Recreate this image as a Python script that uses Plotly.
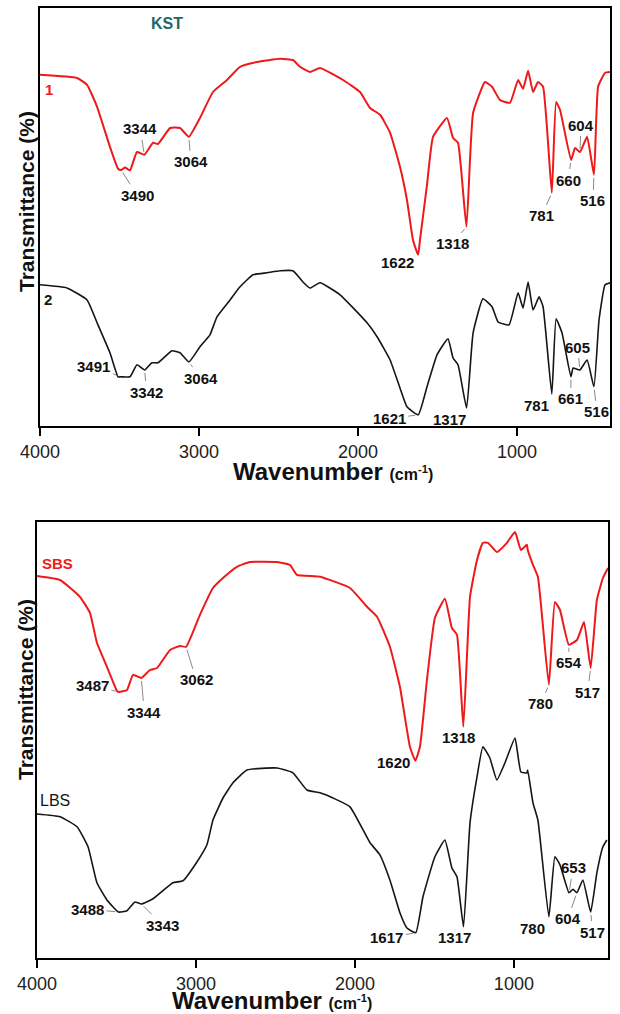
import numpy as np
import plotly.graph_objects as go

# ---------------- data: FTIR spectra (wavenumber in cm-1, transmittance in a.u. %) ----------------
# upper panel, sample 1 (KST)
kst1_wn = [4000, 3767, 3704, 3641, 3560, 3509, 3490, 3465, 3434, 3390, 3344, 3289, 3258, 3182, 3119,
           3064, 2994, 2912, 2824, 2742, 2635, 2490, 2409, 2365, 2302, 2239, 2094, 1987, 1924, 1861,
           1798, 1736, 1692, 1654, 1622, 1610, 1566, 1528, 1440, 1402, 1371, 1318, 1276, 1201, 1157,
           1107, 1044, 993, 962, 930, 899, 868, 836, 781, 754, 729, 660, 635, 604, 559, 516, 490, 446, 415]
kst1_t = [87.8, 87.0, 85.3, 79.8, 69.8, 64.3, 64.0, 64.6, 63.9, 68.5, 67.8, 70.8, 70.5, 74.5, 74.5,
          72.3, 77.0, 83.5, 86.5, 89.8, 91.0, 91.8, 91.5, 89.8, 88.5, 89.5, 86.5, 83.5, 79.5, 77.8,
          73.3, 64.8, 56.5, 46.5, 42.8, 46.5, 60.3, 72.3, 77.0, 72.0, 70.8, 49.8, 78.3, 86.0, 84.8,
          81.5, 80.8, 86.5, 84.3, 88.8, 83.5, 86.0, 84.8, 58.3, 81.0, 79.0, 66.5, 69.5, 68.5, 72.3, 62.8, 84.8, 88.3, 88.5]

# upper panel, sample 2
kst2_wn = [4000, 3830, 3704, 3641, 3560, 3509, 3491, 3434, 3390, 3342, 3296, 3258, 3170, 3119, 3064,
           2994, 2931, 2887, 2805, 2742, 2660, 2572, 2490, 2409, 2346, 2302, 2239, 2113, 1943, 1880,
           1798, 1736, 1692, 1621, 1566, 1503, 1434, 1402, 1371, 1317, 1276, 1214, 1157, 1119, 1050,
           993, 962, 930, 899, 861, 836, 781, 754, 717, 661, 647, 605, 559, 516, 484, 446, 415]
kst2_t = [35.3, 34.5, 31.5, 25.8, 18.3, 12.3, 12.3, 12.3, 15.3, 14.0, 15.8, 15.8, 18.8, 18.3, 16.0,
          19.8, 22.8, 27.3, 31.5, 34.8, 37.8, 38.3, 38.8, 38.8, 36.0, 34.5, 35.8, 32.8, 25.8, 22.3,
          16.5, 9.5, 4.8, 2.8, 9.8, 17.8, 21.8, 17.0, 15.3, 4.5, 23.3, 31.8, 29.8, 26.0, 25.3,
          33.3, 29.5, 36.0, 29.0, 32.3, 29.8, 8.0, 26.8, 23.3, 12.3, 14.5, 14.0, 16.5, 9.8, 26.5, 35.3, 35.8]

# lower panel, SBS
sbs_wn = [4000, 3855, 3730, 3667, 3623, 3560, 3497, 3487, 3434, 3396, 3344, 3289, 3245, 3163, 3101,
          3062, 2975, 2893, 2830, 2742, 2660, 2490, 2409, 2365, 2220, 2031, 1924, 1861, 1780, 1717,
          1654, 1620, 1591, 1547, 1497, 1434, 1390, 1358, 1318, 1276, 1232, 1195, 1163, 1107, 1044,
          993, 956, 918, 913, 880, 849, 780, 742, 710, 654, 603, 559, 517, 478, 440, 408]
sbs_t = [95.5, 94.5, 90.3, 86.3, 78.8, 72.8, 66.8, 66.5, 67.0, 70.8, 70.0, 72.0, 72.5, 77.0, 78.0,
         77.8, 85.8, 92.5, 95.0, 97.8, 99.0, 99.0, 98.3, 95.8, 95.3, 92.5, 87.8, 85.3, 77.8, 67.8,
         52.8, 49.3, 52.8, 69.5, 85.0, 89.8, 82.5, 80.8, 57.8, 90.3, 99.5, 103.8, 103.8, 101.5, 103.8,
         106.5, 102.0, 103.3, 102.0, 98.3, 95.3, 68.3, 89.0, 87.0, 78.3, 79.5, 84.0, 72.5, 89.5, 95.0, 97.5]

# lower panel, LBS
lbs_wn = [4000, 3855, 3748, 3679, 3623, 3560, 3488, 3434, 3384, 3343, 3270, 3145, 3082, 2994, 2931,
          2893, 2830, 2767, 2679, 2490, 2390, 2302, 2220, 2138, 2031, 1905, 1843, 1780, 1717, 1673,
          1617, 1572, 1497, 1434, 1390, 1358, 1317, 1276, 1232, 1195, 1151, 1107, 1056, 993, 956,
          918, 913, 880, 849, 780, 742, 710, 653, 628, 604, 566, 517, 478, 440, 415]
lbs_t = [36.0, 35.3, 32.8, 27.8, 18.8, 14.5, 11.5, 11.8, 14.0, 13.5, 14.8, 18.8, 19.3, 24.0, 28.3,
         34.5, 40.0, 43.8, 47.0, 47.5, 46.3, 42.0, 41.3, 40.0, 37.8, 28.8, 25.8, 19.5, 11.3, 7.5,
         6.3, 15.3, 25.3, 29.5, 22.5, 20.3, 7.8, 33.8, 45.3, 52.8, 50.0, 44.5, 48.8, 55.0, 46.5,
         46.3, 47.0, 38.8, 34.5, 10.3, 25.3, 23.3, 16.3, 17.2, 16.3, 19.5, 11.5, 21.3, 27.8, 29.5]

# peak labels and label offsets (pixels) for each spectrum
kst1_peaks = [3490, 3344, 3064, 1622, 1318, 781, 660, 604, 516]
kst1_offsets = [(16, 25), (-4, -26), (2, 25), (-21, 8), (-14, 17), (-10, 23), (-3, 20), (1, -27), (-1, 26)]
kst2_peaks = [3491, 3342, 3064, 1621, 1317, 781, 661, 605, 516]
kst2_offsets = [(-27, -10), (2, 22), (12, 16), (-29, 4), (-17, 11), (-15, 11), (0, 22), (-2, -23), (3, 25)]
sbs_peaks = [3487, 3344, 3062, 1620, 1318, 780, 654, 517]
sbs_offsets = [(-26, -7), (3, 34), (10, 33), (-22, 2), (-5, 11), (-8, 19), (0, 18), (-3, 24)]
lbs_peaks = [3488, 3343, 1617, 1317, 780, 653, 604, 517]
lbs_offsets = [(-31, -3), (21, 21), (-29, 5), (-9, 11), (-16, 12), (4, -25), (-9, 26), (2, 20)]

x_ticks = [4000, 3000, 2000, 1000]

# ---------------- figure ----------------
W, H = 620, 1014
FONT = "Liberation Sans, Arial, Helvetica, sans-serif"
RED = "#ee1a1a"
BLACK = "#151515"


def px(x):
    return x / W


def py(y):
    return 1 - y / H


fig = go.Figure()

series = [
    (kst1_wn, kst1_t, RED, "x", "y", kst1_peaks, kst1_offsets),
    (kst2_wn, kst2_t, BLACK, "x", "y", kst2_peaks, kst2_offsets),
    (sbs_wn, sbs_t, RED, "x2", "y2", sbs_peaks, sbs_offsets),
    (lbs_wn, lbs_t, BLACK, "x2", "y2", lbs_peaks, lbs_offsets),
]

annotations = []
for wn, t, color, xa, ya, peaks, offs in series:
    fig.add_trace(go.Scatter(
        x=wn, y=t, mode="lines", xaxis=xa, yaxis=ya, showlegend=False,
        line=dict(color=color, width=1.6 if color == BLACK else 2.0, shape="spline", smoothing=0.4),
        hoverinfo="x+y",
    ))
    wn_inc = np.array(wn[::-1], dtype=float)
    t_inc = np.array(t[::-1], dtype=float)
    for p, (dx, dy) in zip(peaks, offs):
        annotations.append(dict(
            x=p, y=float(np.interp(p, wn_inc, t_inc)), xref=xa, yref=ya,
            text=f"<b>{p}</b>", showarrow=True, arrowhead=0, arrowwidth=0.7,
            arrowcolor="#555555", ax=dx, ay=dy, standoff=3, startstandoff=1,
            font=dict(family=FONT, size=15, color="#111111"),
        ))


def paper_text(txt, cx, cy, size, color="#111111", angle=0):
    return dict(
        x=px(cx), y=py(cy), xref="paper", yref="paper", showarrow=False,
        xanchor="center", yanchor="middle", textangle=angle,
        text=txt, font=dict(family=FONT, size=size, color=color),
    )


# axis titles
for cx, cy in [(333, 472), (272, 1000)]:
    annotations.append(paper_text(
        "<b>Wavenumber</b> <b><span style='font-size:16px'>(cm<sup>-1</sup>)</span></b>", cx, cy, 24))
for cx, cy in [(26, 202), (25, 690)]:
    annotations.append(paper_text("<b>Transmittance (%)</b>", cx, cy, 21, angle=-90))

# sample names
names = [
    ("<b>KST</b>", 167, 23, "#1d6a6a", 16),
    ("<b>1</b>", 49, 89, RED, 15),
    ("<b>2</b>", 48, 299, BLACK, 15),
    ("<b>SBS</b>", 57, 563, RED, 15),
    ("LBS", 55, 800, BLACK, 16),
]
for txt, cx, cy, col, size in names:
    annotations.append(paper_text(txt, cx, cy, size, color=col))

xaxis_style = dict(
    tickvals=x_ticks, ticks="outside", ticklen=8, tickwidth=1.5, tickcolor="black",
    showline=True, mirror=True, linewidth=2, linecolor="black",
    showgrid=False, zeroline=False, automargin=False,
    tickfont=dict(family=FONT, size=18, color="#222222"),
)
yaxis_style = dict(
    showticklabels=False, ticks="", showline=True, mirror=True, linewidth=2,
    linecolor="black", showgrid=False, zeroline=False, automargin=False,
)

fig.update_layout(
    width=W, height=H,
    margin=dict(l=0, r=0, t=0, b=0, autoexpand=False),
    paper_bgcolor="white", plot_bgcolor="white",
    xaxis=dict(domain=[px(40), px(610)], range=[4000, 415], anchor="y", **xaxis_style),
    yaxis=dict(domain=[py(426), py(8)], range=[0, 104.5], anchor="x", **yaxis_style),
    xaxis2=dict(domain=[px(37), px(608)], range=[4000, 408], anchor="y2", **xaxis_style),
    yaxis2=dict(domain=[py(958), py(522)], range=[0, 109], anchor="x2", **yaxis_style),
    annotations=annotations,
    showlegend=False,
)

fig.write_html("out.html")
